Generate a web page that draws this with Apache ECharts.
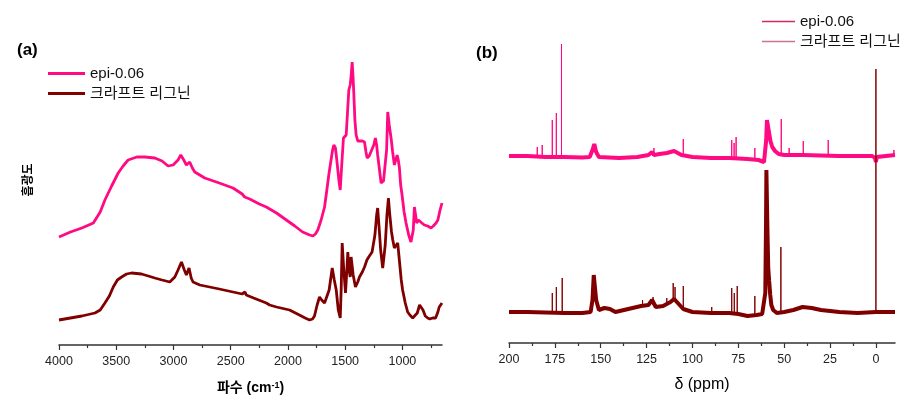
<!DOCTYPE html>
<html><head><meta charset="utf-8">
<script src="https://cdn.jsdelivr.net/npm/echarts@6/dist/echarts.min.js"></script>
<style>html,body{margin:0;padding:0;background:#fff}#c{width:923px;height:412px}</style>
</head><body><div id="c"></div>
<script>
// ---- FTIR (panel a): [wavenumber cm-1, absorbance a.u.]
const ftirEpi = [[4000,1.08],[3900,1.13],[3800,1.17],[3700,1.22],[3686,1.23],[3640,1.33],[3599,1.45],[3540,1.59],[3483,1.72],[3440,1.79],[3396,1.85],[3320,1.88],[3250,1.88],[3163,1.87],[3100,1.84],[3047,1.79],[3003,1.80],[2960,1.85],[2936,1.90],[2910,1.85],[2887,1.80],[2858,1.83],[2835,1.77],[2814,1.73],[2770,1.70],[2727,1.67],[2600,1.62],[2480,1.57],[2400,1.51],[2378,1.48],[2334,1.46],[2250,1.41],[2189,1.38],[2100,1.32],[2014,1.25],[1940,1.19],[1872,1.13],[1810,1.10],[1782,1.09],[1760,1.11],[1739,1.15],[1710,1.25],[1680,1.38],[1660,1.55],[1643,1.70],[1630,1.80],[1610,1.95],[1599,2.00],[1585,1.97],[1573,1.85],[1555,1.65],[1543,1.55],[1530,1.80],[1515,2.07],[1491,2.10],[1468,2.55],[1456,2.60],[1447,2.70],[1439,2.83],[1432,2.70],[1425,2.53],[1415,2.25],[1404,2.10],[1390,2.04],[1375,2.03],[1350,2.04],[1331,2.03],[1318,1.93],[1308,1.87],[1290,1.89],[1273,1.90],[1250,2.00],[1236,2.07],[1225,2.00],[1216,1.90],[1200,1.75],[1186,1.62],[1165,1.64],[1148,1.65],[1138,1.95],[1128,2.33],[1115,2.20],[1099,2.07],[1085,1.93],[1070,1.80],[1058,1.85],[1046,1.90],[1036,1.85],[1026,1.77],[1015,1.60],[1003,1.50],[985,1.33],[968,1.22],[945,1.10],[925,1.03],[915,1.01],[905,1.15],[895,1.38],[885,1.30],[875,1.22],[860,1.25],[852,1.26],[830,1.22],[808,1.20],[780,1.19],[750,1.17],[730,1.19],[706,1.22],[690,1.25],[671,1.35],[654,1.42]];
const ftirKraft = [[4000,0.25],[3900,0.27],[3800,0.29],[3686,0.32],[3640,0.35],[3599,0.42],[3560,0.49],[3526,0.58],[3490,0.65],[3453,0.68],[3410,0.71],[3366,0.72],[3279,0.71],[3220,0.69],[3163,0.67],[3100,0.65],[3032,0.63],[2988,0.68],[2960,0.75],[2930,0.83],[2905,0.75],[2887,0.70],[2864,0.77],[2845,0.67],[2829,0.63],[2770,0.60],[2727,0.59],[2600,0.56],[2480,0.53],[2400,0.51],[2375,0.53],[2364,0.50],[2300,0.47],[2189,0.42],[2160,0.40],[2100,0.38],[1986,0.35],[1900,0.30],[1850,0.27],[1811,0.25],[1785,0.26],[1768,0.29],[1745,0.40],[1724,0.48],[1705,0.45],[1680,0.42],[1665,0.42],[1640,0.55],[1613,0.77],[1595,0.65],[1578,0.55],[1560,0.35],[1543,0.27],[1535,0.55],[1526,1.02],[1512,0.75],[1497,0.52],[1485,0.75],[1477,0.93],[1465,0.75],[1456,0.68],[1448,0.88],[1430,0.70],[1410,0.58],[1390,0.63],[1375,0.68],[1350,0.73],[1331,0.78],[1310,0.85],[1294,0.88],[1265,0.93],[1240,1.10],[1225,1.30],[1216,1.37],[1205,1.20],[1190,0.95],[1172,0.77],[1150,1.00],[1135,1.30],[1122,1.47],[1110,1.30],[1095,1.13],[1084,1.05],[1070,0.97],[1055,0.95],[1041,1.02],[1025,0.83],[1010,0.65],[998,0.55],[975,0.42],[954,0.33],[935,0.30],[925,0.30],[910,0.27],[895,0.25],[870,0.32],[850,0.40],[837,0.42],[820,0.35],[800,0.29],[779,0.27],[760,0.26],[736,0.27],[710,0.27],[690,0.33],[678,0.38],[654,0.42]];
const ftirMajorTicks = [4000,3500,3000,2500,2000,1500,1000];
const ftirMinorTicks = [3750,3250,2750,2250,1750,1250,750];

// ---- 13C NMR (panel b): baselines [ppm, intensity], sharp peaks [ppm, base, top]
const nmrEpiBase = [[200,1.87],[190,1.87],[180,1.86],[170,1.86],[160,1.855],[156,1.86],[154.5,1.93],[153.5,1.99],[152.5,1.91],[151,1.86],[140,1.85],[130,1.86],[124,1.88],[122,1.91],[121,1.88],[118,1.89],[114,1.90],[110,1.92],[106,1.88],[100,1.86],[90,1.85],[80,1.85],[70,1.84],[64,1.83],[61,1.81],[60.2,1.80],[59.8,2.03],[59.4,2.23],[59.0,2.21],[58.3,2.11],[57.5,2.02],[56.5,1.96],[55,1.92],[53,1.89],[50,1.88],[40,1.88],[30,1.875],[20,1.87],[10,1.87],[2,1.87],[0.5,1.85],[0,1.81],[-0.5,1.86],[-10.4,1.88]];
const nmrEpiPeaks = [[184.6,1.86,1.96],[181.9,1.86,1.98],[176.4,1.86,2.23],[174.2,1.86,2.30],[171.4,1.86,2.99],[121.0,1.89,1.95],[105.0,1.87,2.04],[78.6,1.85,2.03],[77.3,1.85,2.00],[76.2,1.85,2.06],[66.0,1.83,1.95],[51.6,1.88,2.24],[47.3,1.88,1.95],[39.6,1.88,2.02],[26.0,1.87,2.03],[-9.8,1.88,1.93]];
const nmrKraftBase = [[200,0.31],[190,0.31],[180,0.305],[170,0.30],[160,0.30],[155.5,0.31],[154.5,0.43],[153.8,0.68],[153.2,0.67],[152.5,0.43],[151,0.33],[148,0.35],[145,0.34],[142,0.31],[135,0.34],[128,0.37],[124,0.38],[122,0.43],[120,0.36],[116,0.37],[112,0.41],[110,0.44],[108,0.40],[105,0.34],[100,0.31],[90,0.30],[80,0.30],[75,0.29],[70,0.27],[65,0.28],[62,0.29],[61,0.31],[60.3,0.50],[59.9,1.20],[59.7,1.73],[59.4,1.73],[59.1,1.10],[58.7,0.75],[58.2,0.62],[57.6,0.48],[57,0.38],[56,0.33],[54,0.30],[50,0.31],[45,0.33],[40,0.36],[35,0.35],[30,0.33],[20,0.31],[10,0.30],[0,0.31],[-10.4,0.31]];
const nmrKraftPeaks = [[176.4,0.30,0.50],[174.2,0.30,0.56],[171.0,0.30,0.65],[127.2,0.37,0.43],[121.5,0.38,0.46],[114.0,0.38,0.45],[110.5,0.42,0.60],[109.5,0.42,0.56],[105.0,0.34,0.57],[89.5,0.30,0.36],[78.6,0.30,0.55],[77.2,0.30,0.50],[75.6,0.29,0.57],[66.0,0.28,0.47],[51.8,0.31,0.96],[0.0,0.31,2.74]];
const nmrMajorTicks = [200,175,150,125,100,75,50,25,0];
const nmrMinorTicks = [187.5,162.5,137.5,112.5,87.5,62.5,37.5,12.5];

const names = ['epi-0.06', '크라프트 리그닌'];
const PINK = '#ff0a82', BROWN = '#800000';
const LEG_B = ['#d42a62', '#c8768e'];
const FONT = "'Liberation Sans', Arial, 'Noto Sans CJK KR', sans-serif";

function peaksToLine(peaks) {
  const out = [];
  peaks.forEach(p => { out.push([p[0], p[1]], [p[0], p[2]], [p[0], p[1]], [p[0], '-']); });
  return out;
}

function xAxisPair(gridIndex, min, max, major, minor, name, nameBold, nameGap) {
  return [{
    type: 'value', gridIndex, min, max, inverse: true, position: 'bottom',
    name, nameLocation: 'middle', nameGap,
    nameTextStyle: { fontFamily: FONT, fontSize: nameBold ? 14 : 16, fontWeight: nameBold ? 'bold' : 'normal', color: '#000',
      rich: { sup: { fontSize: 9, fontWeight: 'bold', fontFamily: FONT, verticalAlign: 'top', color: '#000', padding: [0, 0, 6, 0] } } },
    axisLine: { show: true, onZero: false, lineStyle: { color: '#333', width: 1.5 } },
    axisTick: { show: true, inside: false, length: 5, customValues: major, lineStyle: { color: '#333', width: 1.2 } },
    axisLabel: { show: true, customValues: major, margin: 10, fontFamily: FONT, fontSize: 12.5, color: '#222',
      formatter: v => String(v) },
    splitLine: { show: false }, minorTick: { show: false }
  }, {
    type: 'value', gridIndex, min, max, inverse: true, position: 'bottom',
    axisLine: { show: false, onZero: false },
    axisTick: { show: true, inside: false, length: 3, customValues: minor, lineStyle: { color: '#333', width: 1.2 } },
    axisLabel: { show: false }, splitLine: { show: false }
  }];
}

const chart = echarts.init(document.getElementById('c'), null, { renderer: 'canvas' });
const option = {
  animation: false,
  backgroundColor: '#fff',
  grid: [
    { left: 59, right: 481, top: 45, bottom: 67 },
    { left: 509, right: 28, top: 43, bottom: 69 }
  ],
  xAxis: [].concat(
    xAxisPair(0, 654, 4000, ftirMajorTicks, ftirMinorTicks, '파수 (cm{sup|-1})', true, 36),
    xAxisPair(1, -10.4, 200, nmrMajorTicks, nmrMinorTicks, 'δ (ppm)', false, 34)
  ),
  yAxis: [
    { type: 'value', gridIndex: 0, min: 0, max: 3, show: false },
    { type: 'value', gridIndex: 1, min: 0, max: 3, show: false }
  ],
  legend: [
    { data: names, orient: 'vertical', left: 48, top: 66, padding: 0, icon: 'rect', itemWidth: 37, itemHeight: 3, itemGap: 5,
      textStyle: { fontFamily: FONT, fontSize: 15, color: '#111', lineHeight: 15 } },
    { data: [
        { name: names[0] + ' ', itemStyle: { color: LEG_B[0], borderWidth: 0, borderColor: LEG_B[0] } },
        { name: names[1] + ' ', itemStyle: { color: LEG_B[1], borderWidth: 0, borderColor: LEG_B[1] } }
      ], orient: 'vertical', left: 762, top: 14, padding: 0, icon: 'rect', itemWidth: 33, itemHeight: 1.5, itemGap: 5,
      itemStyle: { borderWidth: 0 },
      textStyle: { fontFamily: FONT, fontSize: 15, color: '#111', lineHeight: 15 } }
  ],
  graphic: [
    { type: 'text', x: 17, y: 50, style: { text: '(a)', font: "bold 17px " + FONT, fill: '#000', verticalAlign: 'middle' } },
    { type: 'text', x: 476, y: 53, style: { text: '(b)', font: "bold 17px " + FONT, fill: '#000', verticalAlign: 'middle' } },
    { type: 'text', x: 27, y: 180, rotation: Math.PI / 2, style: { text: '흡광도', font: "bold 12px 'Noto Sans CJK KR', sans-serif", fill: '#000', align: 'center', verticalAlign: 'middle' } }
  ],
  series: [
    { type: 'line', name: names[0], xAxisIndex: 0, yAxisIndex: 0, symbol: 'none', data: ftirEpi,
      lineStyle: { color: PINK, width: 2.8 }, itemStyle: { color: PINK } },
    { type: 'line', name: names[1], xAxisIndex: 0, yAxisIndex: 0, symbol: 'none', data: ftirKraft,
      lineStyle: { color: BROWN, width: 2.8 }, itemStyle: { color: BROWN } },
    { type: 'line', name: names[1] + ' ', xAxisIndex: 2, yAxisIndex: 1, symbol: 'none', data: nmrKraftBase,
      lineStyle: { color: BROWN, width: 4 }, itemStyle: { color: BROWN } },
    { type: 'line', name: names[0] + ' ', xAxisIndex: 2, yAxisIndex: 1, symbol: 'none', data: nmrEpiBase,
      lineStyle: { color: PINK, width: 4 }, itemStyle: { color: PINK } },
    { type: 'line', name: names[0] + ' ', xAxisIndex: 2, yAxisIndex: 1, symbol: 'none', connectNulls: false, data: peaksToLine(nmrEpiPeaks),
      lineStyle: { color: PINK, width: 1 }, itemStyle: { color: PINK } },
    { type: 'line', name: names[1] + ' ', xAxisIndex: 2, yAxisIndex: 1, symbol: 'none', connectNulls: false, data: peaksToLine(nmrKraftPeaks),
      lineStyle: { color: BROWN, width: 1 }, itemStyle: { color: BROWN }, z: 3 }
  ]
};
chart.setOption(option);
</script>
</body></html>
